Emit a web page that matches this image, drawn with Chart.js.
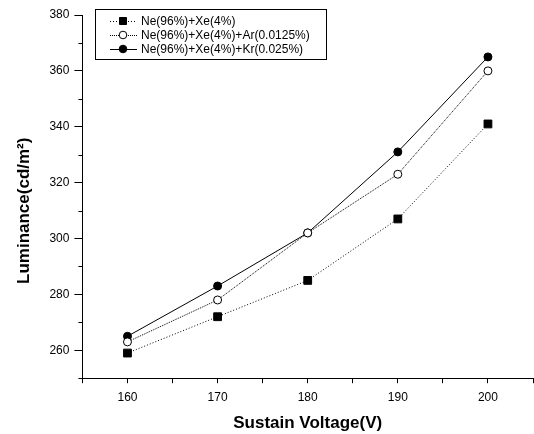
<!DOCTYPE html>
<html>
<head>
<meta charset="utf-8">
<script src="https://cdn.jsdelivr.net/npm/chart.js@4/dist/chart.umd.min.js"></script>
<style>
  html, body { margin: 0; padding: 0; background: #fff; overflow: hidden; }
  #wrap { width: 540px; height: 434px; }
</style>
</head>
<body>
<div id="wrap"><canvas id="c"></canvas></div>
<script>
const voltages = [160, 170, 180, 190, 200];
const neXe = [259, 272, 285, 307, 341];
const neXeAr = [263, 278, 302, 323, 360];
const neXeKr = [265, 283, 302, 331, 365];
const seriesLabels = [
  'Ne(96%)+Xe(4%)',
  'Ne(96%)+Xe(4%)+Ar(0.0125%)',
  'Ne(96%)+Xe(4%)+Kr(0.025%)'
];

const FONT = 'Arial, "Liberation Sans", sans-serif';
const pts = (ys) => voltages.map((x, i) => ({ x, y: ys[i] }));

// short minor ticks on the y axis (odd tens)
const minorTicks = {
  id: 'minorTicks',
  afterDraw(chart) {
    const y = chart.scales.y;
    const ctx = chart.ctx;
    ctx.save();
    ctx.strokeStyle = '#000';
    ctx.lineWidth = 1;
    y.ticks.forEach((t) => {
      if (t.value % 20 === 0) return;
      const py = Math.round(y.getPixelForValue(t.value)) + 0.5;
      ctx.beginPath();
      ctx.moveTo(y.right - 4, py);
      ctx.lineTo(y.right, py);
      ctx.stroke();
    });
    ctx.restore();
  }
};

// legend box drawn inside the plot, top-left
const boxLegend = {
  id: 'boxLegend',
  afterDraw(chart) {
    const ctx = chart.ctx;
    const x0 = 95, y0 = 9, w = 231, h = 50;
    ctx.save();
    ctx.strokeStyle = '#000';
    ctx.lineWidth = 1;
    ctx.strokeRect(x0 + 0.5, y0 + 0.5, w, h);
    ctx.font = '12px ' + FONT;
    ctx.textBaseline = 'middle';
    chart.data.datasets.forEach((ds, i) => {
      const y = y0 + 12 + i * 14;
      const mx = x0 + 28;
      ctx.strokeStyle = '#000';
      ctx.lineWidth = 1;
      ctx.setLineDash(ds.borderDash || []);
      ctx.beginPath();
      ctx.moveTo(x0 + 15, y + 0.5);
      ctx.lineTo(x0 + 42, y + 0.5);
      ctx.stroke();
      ctx.setLineDash([]);
      ctx.fillStyle = ds.pointBackgroundColor;
      ctx.beginPath();
      if (ds.pointStyle === 'rect') {
        ctx.rect(mx - 3.5, y - 3.5, 7, 7);
      } else {
        ctx.arc(mx, y, 3.8, 0, Math.PI * 2);
      }
      ctx.fill();
      ctx.stroke();
      ctx.fillStyle = '#000';
      ctx.fillText(ds.label, x0 + 46, y + 1);
    });
    ctx.restore();
  }
};

new Chart(document.getElementById('c'), {
  type: 'line',
  data: {
    datasets: [
      {
        label: seriesLabels[0],
        data: pts(neXe),
        borderColor: '#000',
        borderWidth: 1,
        borderDash: [1, 2],
        pointStyle: 'rect',
        pointRadius: 5.5,
        pointBackgroundColor: '#000',
        pointBorderColor: '#000',
        tension: 0
      },
      {
        label: seriesLabels[1],
        data: pts(neXeAr),
        borderColor: '#000',
        borderWidth: 1,
        borderDash: [1, 1],
        pointStyle: 'circle',
        pointRadius: 4,
        pointBackgroundColor: '#fff',
        pointBorderColor: '#000',
        tension: 0
      },
      {
        label: seriesLabels[2],
        data: pts(neXeKr),
        borderColor: '#000',
        borderWidth: 1,
        pointStyle: 'circle',
        pointRadius: 4,
        pointBackgroundColor: '#000',
        pointBorderColor: '#000',
        tension: 0
      }
    ]
  },
  options: {
    responsive: true,
    maintainAspectRatio: false,
    animation: false,
    layout: { padding: { top: 15, right: 0, left: 9, bottom: 0 } },
    plugins: {
      legend: { display: false },
      tooltip: { enabled: false }
    },
    scales: {
      x: {
        type: 'linear',
        min: 155,
        max: 205,
        border: { color: '#000', width: 1 },
        grid: { drawOnChartArea: false, color: '#000', tickLength: 5 },
        ticks: {
          stepSize: 5,
          color: '#000',
          font: { family: FONT, size: 12 },
          padding: 7,
          maxRotation: 0,
          callback: (v) => (v % 10 === 0 && v >= 160 && v <= 200 ? v : '')
        },
        title: {
          display: true,
          text: 'Sustain Voltage(V)',
          color: '#000',
          font: { family: FONT, size: 17, weight: 'bold' },
          padding: { top: 2, bottom: 0 }
        }
      },
      y: {
        min: 250,
        max: 380,
        border: { color: '#000', width: 1 },
        grid: {
          drawOnChartArea: false,
          tickLength: 8,
          tickColor: (c) => (c.tick && c.tick.value % 20 === 0 ? '#000' : 'rgba(0,0,0,0)')
        },
        ticks: {
          stepSize: 10,
          color: '#000',
          font: { family: FONT, size: 12 },
          padding: 5,
          callback: (v) => (v % 20 === 0 && v >= 260 ? v : '')
        },
        title: {
          display: true,
          text: 'Luminance(cd/m²)      ',
          color: '#000',
          font: { family: FONT, size: 17, weight: 'bold' },
          padding: { top: 5, bottom: 10 }
        }
      }
    }
  },
  plugins: [minorTicks, boxLegend]
});
</script>
</body>
</html>
